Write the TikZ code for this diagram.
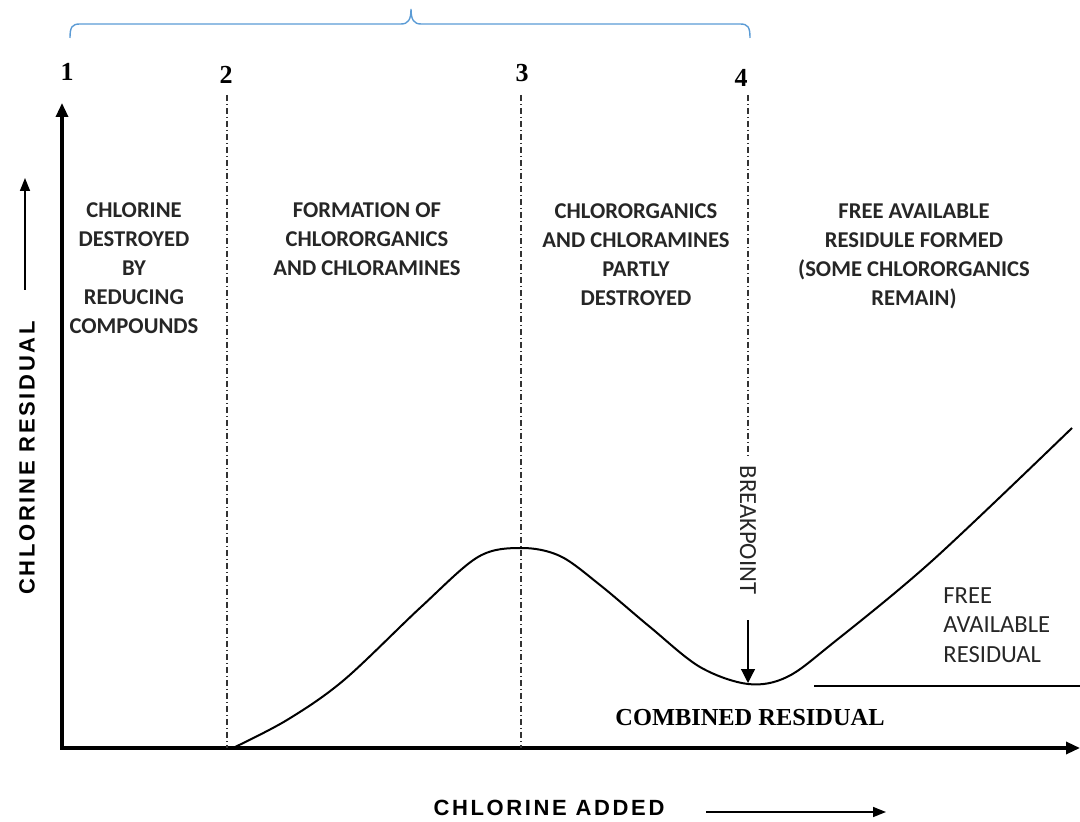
\documentclass[tikz,border=0pt]{standalone}
\usepackage{fontspec}
\setmainfont{Liberation Serif}
\setsansfont{Carlito}
\newfontfamily\axisfont[LetterSpace=12]{Liberation Sans}
\usetikzlibrary{arrows.meta}
\definecolor{braceblue}{RGB}{91,155,213}

\tikzset{
  region/.style={align=center, inner sep=0pt, font=\sffamily\bfseries\fontsize{11.3}{14.5}\selectfont, text=black!85},
  plain/.style={inner sep=0pt, font=\sffamily\fontsize{12.3}{14.6}\selectfont, text=black!85},
  tick/.style={inner sep=0pt, font=\bfseries\fontsize{13}{13}\selectfont},
  phase/.style={draw=black!80, line width=1.3pt, dash pattern=on 3.2pt off 1.3pt on 0.7pt off 1.3pt},
  axis/.style={line width=1.6pt, {Triangle[length=7pt,width=6pt]}-{Triangle[length=7pt,width=6pt]}},
  axislabel/.style={inner sep=0pt, font=\axisfont\bfseries\fontsize{11}{11}\selectfont},
  pointer/.style={line width=0.75pt, -{Triangle[length=6.5pt,width=5pt]}},
}

\begin{document}
\begin{tikzpicture}[x=0.5pt,y=-0.5pt]
  \useasboundingbox (0,0) rectangle (1080,822);

  % brace over the four points
  \draw[braceblue, line width=0.7pt] (70,38) .. controls (70,27) and (72,24) .. (80,24)
    -- (401,24) .. controls (408,24) and (411,20) .. (411,9)
    .. controls (411,20) and (414,24) .. (421,24) -- (740,24)
    .. controls (748,24) and (750,27) .. (750,38);

  % axes
  \coordinate (ytop) at (62,103);
  \coordinate (O) at (62,748);
  \coordinate (xend) at (1080,748);
  \draw[axis] (ytop) -- (O) -- (xend);

  % numbered points and their boundaries
  \foreach \n/\x/\y in {1/67/72, 2/226/75, 3/522/73, 4/741/78}
    \node[tick] (n\n) at (\x,\y) {\n};
  \foreach \x in {227,521}
    \draw[phase] (\x,95) -- (\x,748);
  \draw[phase] (748,95) -- (748,458);

  % zone texts
  \node[region] (z1) at (134,268) {CHLORINE\\DESTROYED\\BY\\REDUCING\\COMPOUNDS};
  \node[region] (z2) at (367,239) {FORMATION OF\\CHLORORGANICS\\AND CHLORAMINES};
  \node[region] (z3) at (636,255) {CHLORORGANICS\\AND CHLORAMINES\\PARTLY\\DESTROYED};
  \node[region] (z4) at (914,256) {FREE AVAILABLE\\RESIDULE FORMED\\(SOME CHLORORGANICS\\REMAIN)};
  \node[plain, align=left, anchor=west] (free) at (943,625) {FREE\\AVAILABLE\\RESIDUAL};

  % breakpoint curve
  \draw[line width=1pt] plot[smooth, tension=0.55] coordinates {
    (233,748) (287,720) (344,680) (421,607) (478,557) (521,548) (560,556)
    (600,585) (650,627) (700,667) (748,684) (787,677) (833,643) (933,560) (1072,428)};
  \coordinate (bmin) at (748,683);
  \node[plain, rotate=-90] (bp) at (748,530) {BREAKPOINT};
  \coordinate (btop) at (748,620);
  \draw[line width=0.6pt, -{Triangle[length=7pt,width=7pt]}] (btop) -- (bmin);

  % combined residual
  \draw[line width=1.4pt] (814,686) -- (1080,686);
  \node[inner sep=0pt, font=\bfseries\fontsize{12.2}{12.2}\selectfont] (comb) at (750,718) {COMBINED RESIDUAL};

  % axis labels
  \node[axislabel, rotate=90] (ylab) at (27,458) {CHLORINE RESIDUAL};
  \coordinate (ya) at (25,290);
  \coordinate (yb) at (25,178);
  \draw[pointer] (ya) -- (yb);
  \node[axislabel] (xlab) at (549,808) {CHLORINE ADDED};
  \coordinate (xa) at (706,812);
  \coordinate (xb) at (886,812);
  \draw[pointer] (xa) -- (xb);
\end{tikzpicture}
\end{document}
